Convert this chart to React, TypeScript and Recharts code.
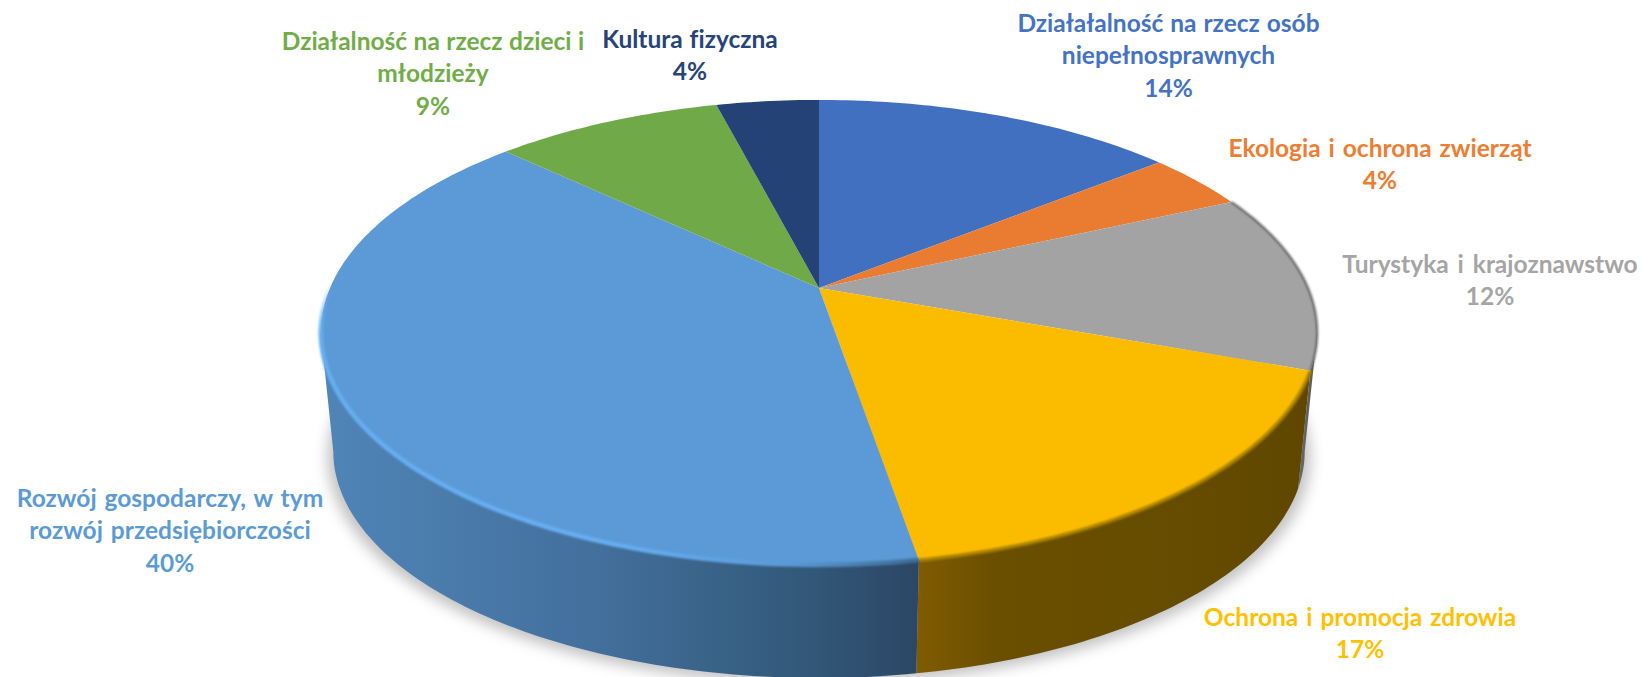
import React from 'react';
import { PieChart, Pie } from 'recharts';

const categories = [
  'Działałalność na rzecz osób\nniepełnosprawnych',
  'Ekologia i ochrona zwierząt',
  'Turystyka i krajoznawstwo',
  'Ochrona i promocja zdrowia',
  'Rozwój gospodarczy, w tym\nrozwój przedsiębiorczości',
  'Działalność na rzecz dzieci i\nmłodzieży',
  'Kultura fizyczna',
];
const values = [14.2, 4.0, 12.4, 16.75, 39.75, 8.9, 4.0];
const percentLabels = ['14%', '4%', '12%', '17%', '40%', '9%', '4%'];
const colors = ['#4170c1', '#ea7c31', '#a3a3a3', '#fbbc00', '#5b9ad6', '#70aa48', '#254277'];
const textColors = ['#4472c4', '#ed7d31', '#a5a5a5', '#ffc000', '#5b9bd5', '#70ad47', '#264478'];

const tableData = categories.map((name, i) => ({ name, value: values[i], fill: colors[i], textColor: textColors[i], pct: percentLabels[i] }));
const wholeDisc = [{ name: 'all', value: values.reduce((a, b) => a + b, 0) }];

// Layout of the labels: centre x, first baseline, extra word spacing
const labelSpots = [
  { x: 1168.5, y: 32, ws: 1 },
  { x: 1380, y: 157, ws: 2 },
  { x: 1490, y: 273, ws: 3 },
  { x: 1360, y: 626, ws: 2 },
  { x: 170, y: 507, ws: 2 },
  { x: 433, y: 50, ws: 0.5 },
  { x: 690, y: 48, ws: 1 },
];
const lineGap = 32.3;

// Perspective of the disc
const minorAxis = 224;
const tilt = 0.191;
const wallDrop = 120;
const wallShrink = 0.975;

const project = (cx: number, cy: number, a: number, cw: number, bottom = false): [number, number] => {
  const t = (cw * Math.PI) / 180;
  const X = Math.sin(t);
  const Y = -Math.cos(t);
  const w = 1 - tilt * Y;
  const u = (a * X) / w;
  const v = (minorAxis * Y) / w;
  if (!bottom) return [cx + u, cy + v];
  return [cx + wallShrink * u, cy + wallDrop + wallShrink * v];
};

const arcPts = (cx: number, cy: number, a: number, from: number, to: number, bottom = false) => {
  const pts: [number, number][] = [];
  const n = Math.max(2, Math.ceil(Math.abs(to - from)));
  for (let i = 0; i <= n; i++) pts.push(project(cx, cy, a, from + ((to - from) * i) / n, bottom));
  return pts;
};
const toPath = (pts: [number, number][]) => pts.map((p, i) => `${i ? 'L' : 'M'}${p[0].toFixed(2)} ${p[1].toFixed(2)}`).join(' ');

const rightTangent = (Math.acos(-tilt) * 180) / Math.PI;
const leftTangent = 360 - rightTangent;

const cwRange = (p: any) => [90 - p.startAngle, 90 - p.endAngle];

const wallStops: Record<number, [number, string][]> = {
  2: [[0, '#6a6a6a'], [1, '#555555']],
  3: [[0, '#7f5c00'], [0.2, '#6b4f00'], [0.65, '#664c00'], [1, '#604700']],
  4: [[0, '#5085b8'], [0.45, '#43709d'], [0.8, '#33597a'], [1, '#2b4765']],
};

const ShadowShape = (p: any) => {
  const outline = arcPts(p.cx, p.cy, p.outerRadius, rightTangent - 30, leftTangent + 15, true).map(
    ([x, y]) => [p.cx + (x - p.cx) * 1.012, y + 6] as [number, number],
  );
  return (
    <g>
      <defs>
        <filter id="discShadow" x="-10%" y="-10%" width="120%" height="130%">
          <feGaussianBlur stdDeviation="7" />
        </filter>
      </defs>
      <path d={toPath(outline) + ' Z'} fill="#000" fillOpacity={0.24} filter="url(#discShadow)" />
    </g>
  );
};

const WallShape = (p: any) => {
  const [s, e] = cwRange(p);
  const from = Math.max(s, rightTangent);
  const to = Math.min(e, leftTangent);
  if (to <= from) return <g />;
  const top = arcPts(p.cx, p.cy, p.outerRadius, from, to);
  const low = arcPts(p.cx, p.cy, p.outerRadius, to, from, true);
  const idx = categories.indexOf(p.name);
  const id = `wall${idx}`;
  const stops = wallStops[idx] ?? [[0, '#555'], [1, '#555']];
  return (
    <g>
      <defs>
        <linearGradient id={id} x1="0" x2="1" y1="0" y2="0">
          {stops.map(([o, c]) => (
            <stop key={o} offset={o} stopColor={c} />
          ))}
        </linearGradient>
      </defs>
      <path d={toPath([...top, ...low]) + ' Z'} fill={`url(#${id})`} />
    </g>
  );
};

const fadeSteps = [0, 1, 2, 3, 4, 5, 6, 7, 8, 9, 10, 11];

const TopShape = (p: any) => {
  const [s, e] = cwRange(p);
  const idx = categories.indexOf(p.name);
  const arc = arcPts(p.cx, p.cy, p.outerRadius, s, e);
  const d = `M${p.cx} ${p.cy} ` + toPath(arc).replace(/^M/, 'L') + ' Z';
  const rimPts = idx === 4 ? arcPts(p.cx, p.cy, p.outerRadius, s, leftTangent) : arc;
  return (
    <g>
      <defs>
        <linearGradient id="rimBlue" gradientUnits="userSpaceOnUse" x1="320" x2="917" y1="0" y2="0">
          <stop offset="0" stopColor="#66aef2" />
          <stop offset="0.5" stopColor="#66aef2" />
          <stop offset="0.78" stopColor="#5b9ad6" />
          <stop offset="1" stopColor="#3d6b96" />
        </linearGradient>
        <filter id="rimSoft" x="-5%" y="-5%" width="110%" height="110%">
          <feGaussianBlur stdDeviation="0.9" />
        </filter>
      </defs>
      <path d={d} fill={p.fill} stroke="none" />
      {idx === 2 && <path d={toPath(arc)} fill="none" stroke="#5f5f5f" strokeWidth={2} filter="url(#rimSoft)" />}
      {idx === 3 && <path d={toPath(arc)} fill="none" stroke="#a88000" strokeWidth={3.5} filter="url(#rimSoft)" />}
      {idx === 4 && (
        <g filter="url(#rimSoft)">
          <path d={toPath(rimPts)} fill="none" stroke="url(#rimBlue)" strokeWidth={4.5} />
          {fadeSteps.map((i) => (
            <path
              key={i}
              d={toPath(arcPts(p.cx, p.cy, p.outerRadius, leftTangent + i - 0.2, leftTangent + i + 1))}
              fill="none"
              stroke="#66aef2"
              strokeWidth={4.5}
              strokeOpacity={1 - (i + 1) / (fadeSteps.length + 1)}
            />
          ))}
        </g>
      )}
    </g>
  );
};

const renderLabel = (p: any) => {
  const idx = categories.indexOf(p.name);
  const spot = labelSpots[idx];
  const lines = [...categories[idx].split('\n'), percentLabels[idx]];
  return (
    <g key={idx}>
      {lines.map((line, i) => (
        <text
          key={i}
          x={spot.x}
          y={spot.y + i * lineGap}
          textAnchor="middle"
          fontFamily="Lato, sans-serif"
          fontWeight={700}
          fontSize={24.5}
          wordSpacing={spot.ws}
          fill={textColors[idx]}
          style={{ fontVariantLigatures: 'none' }}
        >
          {line}
        </text>
      ))}
    </g>
  );
};

const common = {
  dataKey: 'value',
  nameKey: 'name',
  cx: 819,
  cy: 288,
  innerRadius: 0,
  outerRadius: 489,
  startAngle: 90,
  endAngle: -270,
  stroke: 'none',
  isAnimationActive: false,
  labelLine: false,
} as const;

export default function App() {
  return (
    <div style={{ position: 'absolute', left: 0, top: 0, width: 1643, height: 677, overflow: 'hidden', background: '#fff' }}>
      <PieChart width={1643} height={677} margin={{ top: 0, right: 0, bottom: 0, left: 0 }}>
        <Pie {...common} data={wholeDisc} shape={ShadowShape} inactiveShape={ShadowShape} activeShape={ShadowShape} />
        <Pie {...common} data={tableData} shape={WallShape} inactiveShape={WallShape} activeShape={WallShape} />
        <Pie {...common} data={tableData} shape={TopShape} inactiveShape={TopShape} activeShape={TopShape} label={renderLabel} />
      </PieChart>
    </div>
  );
}
